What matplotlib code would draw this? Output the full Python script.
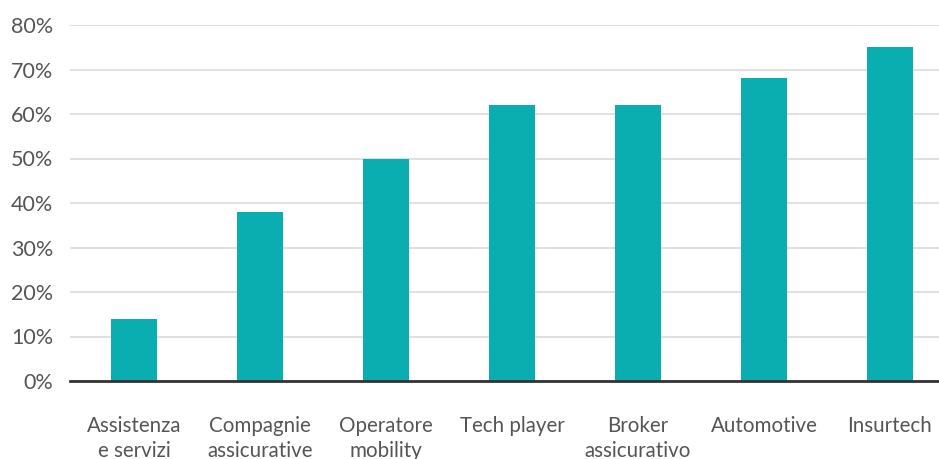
import matplotlib.pyplot as plt

categorie = ["Assistenza\ne servizi", "Compagnie\nassicurative", "Operatore\nmobility",
             "Tech player", "Broker\nassicurativo", "Automotive", "Insurtech"]
valori = [14, 38, 50, 62, 62, 68, 75]
tick_y = [0, 10, 20, 30, 40, 50, 60, 70, 80]

plt.rcParams["font.family"] = ["Lato", "DejaVu Sans"]

fig = plt.figure(figsize=(9.39, 4.59), dpi=100)
ax = fig.add_axes([70 / 939, 78 / 459, 869 / 939, 356 / 459])

ax.bar(range(len(valori)), valori, width=0.365, color="#0aaeb0", zorder=3)

ax.set_ylim(0, 80)
ax.set_xlim(-0.508, 6.39)
ax.set_yticks(tick_y)
ax.set_yticklabels([f"{v}%" for v in tick_y], fontsize=15.5, color="#555555")
ax.set_xticks(range(len(categorie)))
ax.set_xticklabels(categorie, fontsize=14.8, color="#555555", linespacing=1.3)

ax.grid(axis="y", color="#e0e0e0", linewidth=1.5, zorder=0)
for s in ["top", "right", "left"]:
    ax.spines[s].set_visible(False)
ax.spines["bottom"].set_color("#333333")
ax.spines["bottom"].set_linewidth(2)
ax.spines["bottom"].set_zorder(4)
ax.tick_params(axis="both", length=0)
ax.tick_params(axis="y", pad=12)
ax.tick_params(axis="x", pad=25)

fig.savefig("out.png", dpi=100)
